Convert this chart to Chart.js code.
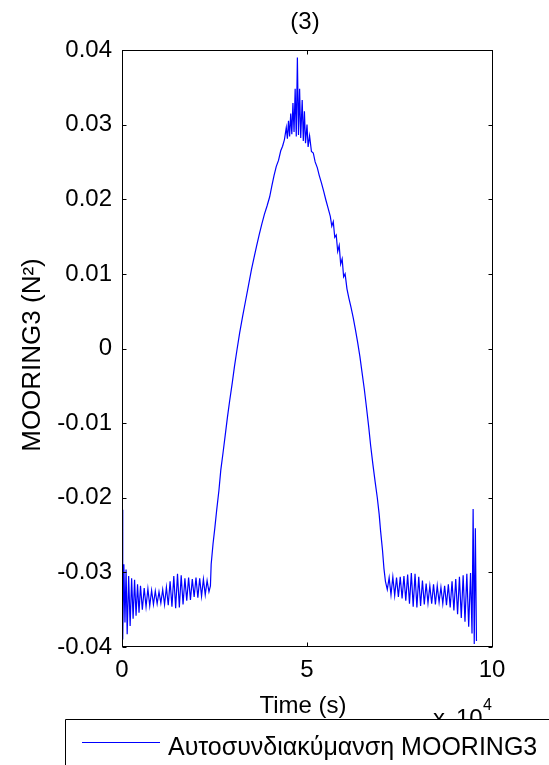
<!DOCTYPE html>
<html>
<head>
<meta charset="utf-8">
<script src="https://cdn.jsdelivr.net/npm/chart.js@4/dist/chart.umd.min.js"></script>
<style>
  body { margin: 0; background: #fff; }
  canvas { display: block; }
</style>
</head>
<body>
<canvas id="myChart" width="549" height="765"></canvas>
<script>
// time axis in units of 10^4 s
var times = [
  0.00, 0.02, 0.05, 0.08, 0.11, 0.14, 0.18, 0.22, 0.26, 0.30,
  0.34, 0.38, 0.42, 0.46, 0.50, 0.55, 0.60, 0.65, 0.70, 0.75,
  0.80, 0.85, 0.90, 0.95, 1.00, 1.05, 1.10, 1.15, 1.20, 1.25,
  1.30, 1.35, 1.40, 1.45, 1.50, 1.55, 1.60, 1.65, 1.70, 1.75,
  1.80, 1.85, 1.90, 1.95, 2.00, 2.05, 2.10, 2.15, 2.20, 2.25,
  2.30, 2.35, 2.39,
  2.41, 2.46, 2.51, 2.56, 2.62, 2.67, 2.73, 2.79, 2.85, 2.91,
  2.98, 3.04, 3.11, 3.18, 3.26, 3.34, 3.42, 3.50, 3.57, 3.64,
  3.71, 3.78, 3.85, 3.92, 3.99, 4.05, 4.11, 4.17, 4.23, 4.29,
  4.34, 4.39,
  4.44, 4.47, 4.50, 4.53, 4.56, 4.59, 4.62, 4.65, 4.68, 4.71,
  4.74, 4.77, 4.80, 4.83, 4.87, 4.90, 4.93, 4.96, 5.00, 5.03,
  5.07, 5.12, 5.17, 5.22, 5.28, 5.33, 5.39, 5.45, 5.51, 5.57,
  5.63, 5.67, 5.71, 5.75, 5.79, 5.83, 5.87, 5.91, 5.95, 5.99,
  6.03, 6.08, 6.13, 6.19, 6.25, 6.31, 6.37, 6.43, 6.49, 6.55,
  6.61, 6.67, 6.72, 6.78, 6.84, 6.90, 6.95, 6.99, 7.04, 7.08,
  7.12,
  7.17, 7.22, 7.27, 7.32, 7.37, 7.42, 7.47, 7.52, 7.57, 7.62,
  7.67, 7.72, 7.77, 7.82, 7.87, 7.92, 7.97, 8.02, 8.07, 8.12,
  8.17, 8.22, 8.27, 8.32, 8.37, 8.42, 8.47, 8.52, 8.57, 8.62,
  8.67, 8.72, 8.77, 8.82, 8.87, 8.92, 8.97, 9.02, 9.07, 9.12,
  9.17, 9.22, 9.27, 9.32, 9.37, 9.42, 9.46, 9.49, 9.52, 9.55,
  9.58
];

var autocov = [
  -0.0216, -0.0390, -0.0289, -0.0367, -0.0296, -0.0383, -0.0305, -0.0372, -0.0308, -0.0362,
  -0.0310, -0.0358, -0.0316, -0.0354, -0.0318, -0.0350, -0.0321, -0.0346, -0.0322, -0.0345,
  -0.0324, -0.0343, -0.0325, -0.0342, -0.0326, -0.0341, -0.0323, -0.0343, -0.0320, -0.0344,
  -0.0312, -0.0346, -0.0305, -0.0348, -0.0302, -0.0347, -0.0304, -0.0343, -0.0308, -0.0338,
  -0.0307, -0.0337, -0.0309, -0.0333, -0.0307, -0.0334, -0.0308, -0.0332, -0.0309, -0.0330,
  -0.0311, -0.0326, -0.0318,
  -0.0289, -0.0262, -0.0240, -0.0216, -0.0190, -0.0163, -0.0140, -0.0116, -0.0092, -0.0070,
  -0.0046, -0.0024, -0.0001, 0.0021, 0.0043, 0.0064, 0.0085, 0.0106, 0.0122, 0.0138,
  0.0153, 0.0167, 0.0180, 0.0191, 0.0203, 0.0218, 0.0232, 0.0244, 0.0252, 0.0265,
  0.0271, 0.0280,
  0.0296, 0.0281, 0.0305, 0.0284, 0.0315, 0.0287, 0.0329, 0.0290, 0.0348, 0.0284,
  0.0390, 0.0286, 0.0348, 0.0282, 0.0333, 0.0278, 0.0318, 0.0275, 0.0300, 0.0270,
  0.0285, 0.0264, 0.0262, 0.0250, 0.0242, 0.0232, 0.0222, 0.0211, 0.0199, 0.0188,
  0.0177, 0.0164, 0.0170, 0.0149, 0.0152, 0.0130, 0.0138, 0.0113, 0.0120, 0.0096,
  0.0100, 0.0080, 0.0068, 0.0055, 0.0041, 0.0025, 0.0008, -0.0011, -0.0033, -0.0055,
  -0.0080, -0.0106, -0.0130, -0.0155, -0.0178, -0.0200, -0.0222, -0.0245, -0.0270, -0.0295,
  -0.0312,
  -0.0323, -0.0307, -0.0330, -0.0306, -0.0331, -0.0307, -0.0333, -0.0306, -0.0335, -0.0305,
  -0.0338, -0.0303, -0.0342, -0.0301, -0.0346, -0.0302, -0.0347, -0.0306, -0.0345, -0.0311,
  -0.0343, -0.0315, -0.0341, -0.0318, -0.0342, -0.0316, -0.0343, -0.0318, -0.0340, -0.0320,
  -0.0342, -0.0318, -0.0344, -0.0316, -0.0347, -0.0312, -0.0351, -0.0309, -0.0356, -0.0306,
  -0.0361, -0.0304, -0.0366, -0.0302, -0.0373, -0.0301, -0.0382, -0.0215, -0.0396, -0.0241,
  -0.0392
];

var xTicks = [0, 5, 10];
var yTicks = [-0.04, -0.03, -0.02, -0.01, 0, 0.01, 0.02, 0.03, 0.04];
var titleText = '(3)';
var xLabel = 'Time (s)';
var yLabel = 'MOORING3 (N\u00B2)';
var legendLabel = 'Αυτοσυνδιακύμανση MOORING3';

var FONT = "'Liberation Sans', Arial, Helvetica, sans-serif";
Chart.defaults.font.family = FONT;
Chart.defaults.color = '#000';

var points = [];
for (var i = 0; i < times.length; i++) {
  points.push({ x: times[i], y: autocov[i] });
}

// matlab style frame, inward ticks, labels, legend
var matlabDecor = {
  id: 'matlabDecor',
  afterDatasetsDraw: function(chart) {
    var c = chart.ctx;
    var a = chart.chartArea;
    var xs = chart.scales.x, ys = chart.scales.y;
    var L = Math.round(a.left) + 0.5, R = Math.round(a.right) + 0.5;
    var T = Math.round(a.top) + 0.5, B = Math.round(a.bottom) - 0.5;
    c.save();
    c.strokeStyle = '#000';
    c.lineWidth = 1;
    c.strokeRect(L, T, R - L, B - T);
    c.beginPath();
    xTicks.forEach(function(v) {
      var px = Math.round(xs.getPixelForValue(v)) + 0.5;
      c.moveTo(px, B); c.lineTo(px, B - 4);
      c.moveTo(px, T); c.lineTo(px, T + 4);
    });
    yTicks.forEach(function(v) {
      var py = Math.round(ys.getPixelForValue(v)) + 0.5;
      c.moveTo(L, py); c.lineTo(L + 4, py);
      c.moveTo(R, py); c.lineTo(R - 4, py);
    });
    c.stroke();

    c.fillStyle = '#000';
    c.font = '24px ' + FONT;
    c.textAlign = 'center';
    c.textBaseline = 'alphabetic';
    c.fillText(titleText, 305, 29);
    c.fillText(xLabel, 303, 713);

    c.save();
    c.translate(40, 355);
    c.rotate(-Math.PI / 2);
    c.font = '26px ' + FONT;
    c.fillText(yLabel, 0, 0);
    c.restore();

    // exponent label (partly hidden behind legend)
    c.textAlign = 'left';
    c.fillText('x', 433, 726);
    c.fillText('10', 456, 726);
    c.font = '16px ' + FONT;
    c.fillText('4', 483, 710);

    // legend box
    c.fillStyle = '#fff';
    c.fillRect(65, 719, 600, 100);
    c.beginPath();
    c.moveTo(65.5, 800); c.lineTo(65.5, 719.5); c.lineTo(560, 719.5);
    c.stroke();
    c.strokeStyle = '#0000ff';
    c.beginPath();
    c.moveTo(82, 742.5); c.lineTo(160, 742.5);
    c.stroke();
    c.fillStyle = '#000';
    c.font = '25px ' + FONT;
    c.fillText(legendLabel, 168, 755);
    c.restore();
  }
};

var ctx = document.getElementById('myChart');
var config = {
  type: 'line',
  data: {
    datasets: [{
      label: legendLabel,
      data: points,
      borderColor: '#0000ff',
      borderWidth: 1.2,
      pointRadius: 0,
      tension: 0,
      fill: false
    }]
  },
  options: {
    responsive: false,
    animation: false,
    devicePixelRatio: 1,
    layout: { padding: { top: 50, right: 57, left: 0, bottom: 0 } },
    scales: {
      x: {
        type: 'linear',
        min: 0, max: 10,
        afterBuildTicks: function(s) { s.ticks = xTicks.map(function(v) { return { value: v }; }); },
        afterFit: function(s) { s.height = 118; },
        ticks: { font: { size: 24 }, color: '#000', padding: 9, maxRotation: 0 },
        grid: { display: false, drawTicks: false },
        border: { display: false }
      },
      y: {
        min: -0.04, max: 0.04,
        afterBuildTicks: function(s) { s.ticks = yTicks.map(function(v) { return { value: v }; }); },
        afterFit: function(s) { s.width = 122; },
        ticks: {
          font: { size: 24 }, color: '#000', padding: 10,
          callback: function(v) { return String(Math.round(v * 100) / 100); }
        },
        grid: { display: false, drawTicks: false },
        border: { display: false }
      }
    },
    plugins: {
      legend: { display: false },
      tooltip: { enabled: false }
    }
  },
  plugins: [matlabDecor]
};
var myChart = new Chart(ctx, config);
</script>
</body>
</html>
